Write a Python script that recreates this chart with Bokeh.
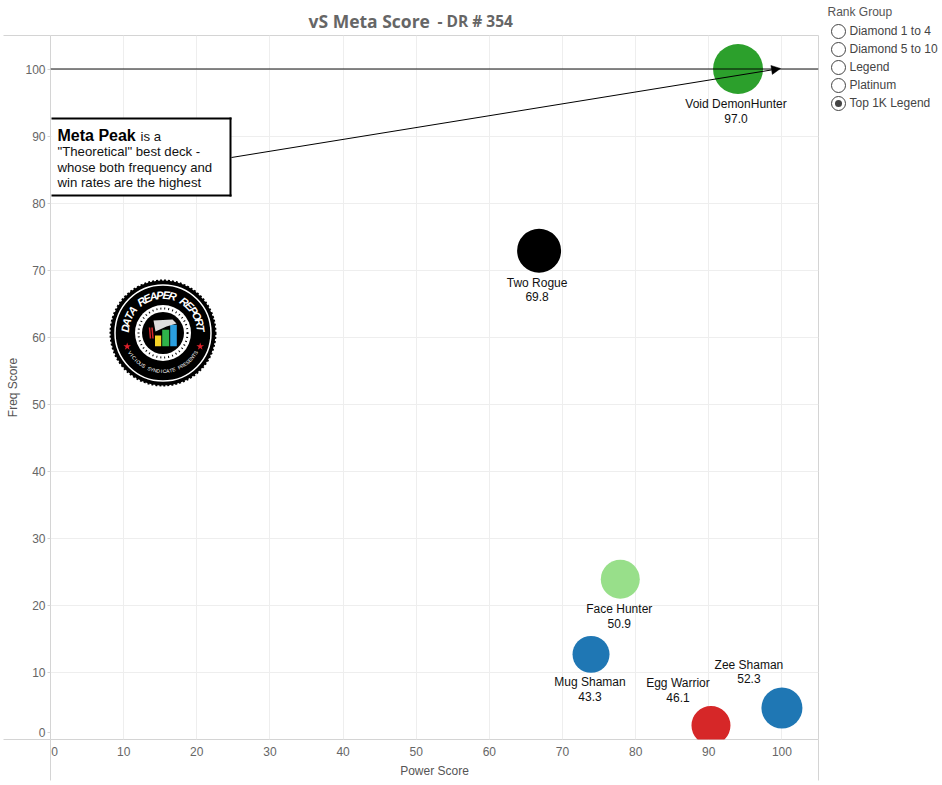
import math
from bokeh.core.properties import value
from bokeh.embed import file_html
from bokeh.layouts import column, row
from bokeh.models import (Arrow, BoxAnnotation, ColumnDataSource, FixedTicker, Label, NormalHead,
                          Range1d, Span)
from bokeh.plotting import figure
from bokeh.resources import INLINE

# ---- data ----
decks = ["Void DemonHunter", "Two Rogue", "Face Hunter", "Mug Shaman", "Egg Warrior", "Zee Shaman"]
power_score = [94.0, 66.8, 77.9, 73.9, 90.3, 100.0]
freq_score = [100.0, 72.9, 23.9, 12.7, 2.1, 4.7]
meta_score = [97.0, 69.8, 50.9, 43.3, 46.1, 52.3]
deck_colors = ["#2ca02c", "#000000", "#98df8a", "#1f77b4", "#d62728", "#1f77b4"]
bubble_px = [50, 44, 39, 37, 39, 41]
label_dx = [-2, -2, -1, -1, -33, -33]
name_dy = [35, 32, 30, 28, -42, -43]
rank_groups = ["Diamond 1 to 4", "Diamond 5 to 10", "Legend", "Platinum", "Top 1K Legend"]
selected_rank = "Top 1K Legend"
grid_ticks = [10, 20, 30, 40, 50, 60, 70, 80, 90, 100]
title_main = "vS Meta Score"
title_sub = "- DR # 354"

FONT = "Liberation Sans"
TITLE_H = 34
# page-pixel helpers for the logo (frame: x 50..818, y 35..739 on the page)
SX, SY = 768 / 105, 704 / 105
def dx(px): return (px - 50) / SX
def dy(py): return (739 - py) / SY

p = figure(width=819, height=783 - TITLE_H, output_backend="svg", toolbar_location=None,
           x_range=Range1d(0, 105), y_range=Range1d(0, 105), frame_align=False,
           min_border_left=50, min_border_right=1, min_border_top=1, min_border_bottom=44,
           outline_line_color="#d4d4d4", background_fill_color="white")
# the "0" labels sit just inside the corner; the long minor ticks carry the frame lines past the corner
p.xaxis.ticker = FixedTicker(ticks=[0.55] + grid_ticks, minor_ticks=[0, 105])
p.yaxis.ticker = FixedTicker(ticks=[1] + grid_ticks, minor_ticks=[0, 105])
p.xaxis.major_label_overrides = {0.55: "0"}
p.yaxis.major_label_overrides = {1: "0"}
p.xgrid.ticker = FixedTicker(ticks=grid_ticks)
p.ygrid.ticker = FixedTicker(ticks=grid_ticks)
p.xgrid.grid_line_color = "#eeeeee"
p.ygrid.grid_line_color = "#eeeeee"
p.xaxis.axis_line_color = None
p.yaxis.axis_line_color = None
p.xaxis.major_tick_line_color = None
p.xaxis.major_tick_out = 0
p.xaxis.major_tick_in = 0
p.xaxis.minor_tick_line_color = "#d4d4d4"
p.xaxis.minor_tick_out = 41
p.xaxis.minor_tick_in = 0
p.yaxis.major_tick_line_color = "#d4d4d4"
p.yaxis.major_tick_out = 3
p.yaxis.major_tick_in = 0
p.yaxis.minor_tick_line_color = "#d4d4d4"
p.yaxis.minor_tick_out = 47
p.yaxis.minor_tick_in = 0
# labels are measured from the end of the long minor ticks, so pull them back
p.yaxis.major_label_standoff = -42
p.xaxis.major_label_standoff = -34
for ax in (p.xaxis[0], p.yaxis[0]):
    ax.major_label_text_font = FONT
    ax.major_label_text_font_size = "12px"
    ax.major_label_text_color = "#666666"
    ax.axis_label_text_font = FONT
    ax.axis_label_text_font_size = "12px"
    ax.axis_label_text_font_style = "normal"
    ax.axis_label_text_color = "#555555"
p.xaxis.axis_label = "Power Score"
p.yaxis.axis_label = "Freq Score"
p.xaxis.axis_label_standoff = 5
p.yaxis.axis_label_standoff = 2

# ---- logo (made of shapes and text) ----
LX, LY = 162.5, 332.5
def ring(d, fill=None, line=None, lw=1, dash="solid"):
    p.scatter([dx(LX)], [dy(LY)], marker="circle", size=d, fill_color=fill, line_color=line,
              line_width=lw, line_dash=dash)
ring(105, fill="black", line="black", lw=2, dash="2 2")
ring(96, line="white", lw=1.5)
ring(56, fill="white")
ring(49, line="black", lw=2, dash="1 3")
ring(42, fill="black")
bars_px = [(154.5, 160.7, 335), (161.7, 168.7, 329.3), (169.7, 176.3, 324.3)]
bar_colors = ["#f5d327", "#2fb34a", "#2a9fe0"]
p.quad(left=[dx(b[0]) for b in bars_px], right=[dx(b[1]) for b in bars_px],
       top=[dy(b[2]) for b in bars_px], bottom=[dy(345.7)] * 3, fill_color=bar_colors, line_color=None)
p.patch([dx(v) for v in (153, 172, 176, 166, 155)], [dy(v) for v in (320, 319, 323, 326, 331)],
        fill_color="#dddddd", line_color=None)
p.segment([dx(149), dx(151.5)], [dy(327), dy(327)], [dx(150), dx(152.5)], [dy(338), dy(338)],
          line_color="#d62728", line_width=1.5)
p.scatter([dx(126.7), dx(199.7)], [dy(346), dy(346)], marker="star", size=8, fill_color="#e0202a", line_color=None)

def arc_text(txt, a0, a1, r, size, style):
    n = len(txt)
    angs = [math.radians(a0 + (a1 - a0) * i / (n - 1)) for i in range(n)]
    rot = [a - math.pi / 2 if a0 > a1 else a + math.pi / 2 for a in angs]
    src = ColumnDataSource(dict(x=[dx(LX)] * n, y=[dy(LY)] * n, t=list(txt), a=rot,
                                xo=[r * math.cos(a) for a in angs], yo=[-r * math.sin(a) for a in angs]))
    p.text("x", "y", text="t", angle="a", x_offset="xo", y_offset="yo", source=src, text_color="white",
           text_font=value(FONT), text_font_size=size, text_font_style=style,
           text_align="center", text_baseline="middle")
arc_text("DATA REAPER REPORT", 173, 7, 38, "11px", "bold italic")
arc_text("VICIOUS SYNDICATE PRESENTS", 211, 329, 38, "5px", "normal")

# ---- bubbles and their labels ----
src = ColumnDataSource(dict(x=power_score, y=freq_score, c=deck_colors, s=bubble_px, name=decks,
                            score=[f"{v:.1f}" for v in meta_score], xo=label_dx, yn=name_dy,
                            ys=[v + 14 for v in name_dy]))
p.scatter("x", "y", marker="circle", size="s", fill_color="c", line_color=None, source=src)
p.text("x", "y", text="name", x_offset="xo", y_offset="yn", source=src, text_font=value(FONT),
       text_font_size="12px", text_color="#111111", text_align="center", text_baseline="middle")
p.text("x", "y", text="score", x_offset="xo", y_offset="ys", source=src, text_font=value(FONT),
       text_font_size="12px", text_color="#111111", text_align="center", text_baseline="middle")

# ---- reference line ----
p.add_layout(Span(location=100, dimension="width", line_color="black", line_alpha=0.47, line_width=2))

# ---- meta peak call-out ----
def bar(x0, x1, y0, y1, color):
    p.add_layout(BoxAnnotation(left=dx(x0), right=dx(x1), top=dy(y0), bottom=dy(y1), fill_color=color,
                               fill_alpha=1, line_color=None))
bar(51, 230, 118, 195, "white")
bar(51, 231, 117, 119, "black")
bar(51, 231, 194, 196, "black")
bar(229, 231, 117, 196, "black")
p.add_layout(Arrow(x_start=dx(231), y_start=dy(157), x_end=dx(780), y_end=dy(68), line_color="black", line_width=1,
                   end=NormalHead(size=9, fill_color="black", line_color="black", line_width=0.5)))

def lab(x, y, t, size="13.2px", style="normal", color="#111111"):
    p.add_layout(Label(x=dx(x), y=dy(y), text=t, text_font=FONT, text_font_size=size,
                       text_font_style=style, text_color=color, text_baseline="middle"))
lab(57, 134.5, "Meta Peak", "16px", "bold", "black")
lab(140, 135.5, "is a")
lab(57, 151, "\"Theoretical\" best deck -")
lab(57, 166.5, "whose both frequency and")
lab(57, 181.5, "win rates are the highest")

# ---- title strip, in page pixels ----
head = figure(width=819, height=TITLE_H, output_backend="svg", toolbar_location=None, frame_align=False,
              x_range=Range1d(0, 819), y_range=Range1d(TITLE_H, 0), x_axis_type=None, y_axis_type=None,
              min_border=0, min_border_left=0, min_border_right=0, min_border_top=0, min_border_bottom=0,
              outline_line_color=None)
head.grid.visible = False
head.text([308], [20], text=[title_main], text_font=value("Open Sans"), text_font_size="17.5px",
          text_font_style="bold", text_color="#666666", text_baseline="middle")
head.text([437], [20.5], text=[title_sub], text_font=value("Open Sans"), text_font_size="15.5px",
          text_font_style="bold", text_color="#666666", text_baseline="middle")

# ---- rank-group selector, drawn in its own little figure in page pixels ----
leg = figure(width=121, height=783, output_backend="svg", toolbar_location=None, frame_align=False,
             x_range=Range1d(819, 940), y_range=Range1d(783, 0), x_axis_type=None, y_axis_type=None,
             min_border=0, min_border_left=0, min_border_right=0, min_border_top=0, min_border_bottom=0,
             outline_line_color=None)
leg.grid.visible = False
ry = [31 + 18 * i for i in range(len(rank_groups))]
leg.scatter([838] * len(ry), ry, marker="circle", size=14, fill_color="white", line_color="#444444")
leg.scatter([838], [ry[rank_groups.index(selected_rank)]], marker="circle", size=7, fill_color="#444444", line_color=None)
leg.text([849] * len(ry), [v - 1 for v in ry], text=rank_groups, text_font=value(FONT), text_font_size="12px",
         text_color="#444444", text_baseline="middle")
leg.text([827], [11], text=["Rank Group"], text_font=value(FONT), text_font_size="12px", text_color="#555555",
         text_baseline="middle")

layout = row(column(head, p, spacing=0), leg, spacing=0)
open("out.html", "w").write(file_html(layout, INLINE))
